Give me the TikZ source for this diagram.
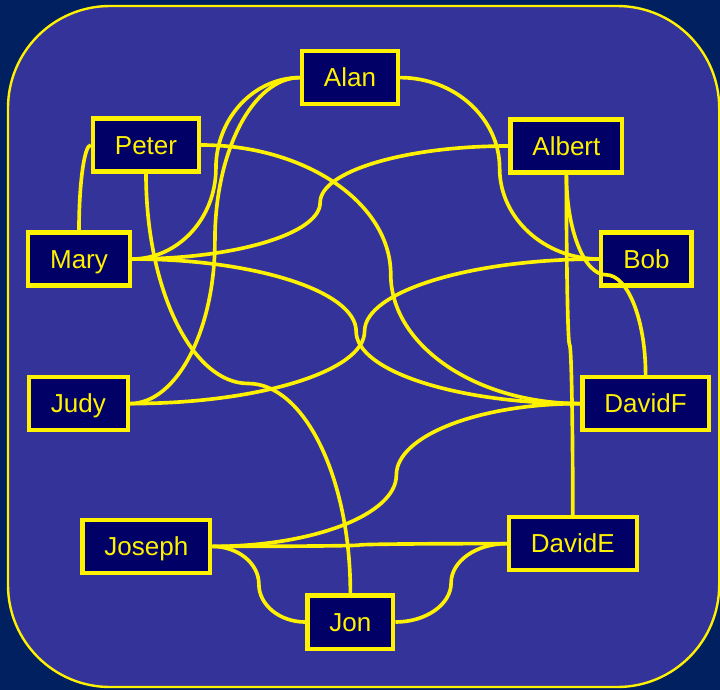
\documentclass[tikz,border=0pt]{standalone}
\usepackage{fontspec}
\setmainfont{Liberation Sans}
\usepackage{tikz}
\usetikzlibrary{calc}
\usepackage{xcolor}
\definecolor{navybg}{HTML}{002060}
\definecolor{panelblue}{HTML}{333399}
\definecolor{boxnavy}{HTML}{000066}
\tikzset{
  person/.style={
    draw=yellow,
    rectangle,
    fill=boxnavy,
    text=yellow,
    font=\fontsize{18.5pt}{22pt}\selectfont,
    minimum height=1.33cm,
    inner xsep=0.55cm,
    inner ysep=0pt,
    text height=16.6pt,
    text depth=3.4pt,
    line width=3pt,
  },
  panel/.style={
    draw=yellow,
    fill=panelblue,
    rounded corners=2.55cm,
    line width=1.7pt,
  },
  link/.style={draw=yellow, line width=2.6pt},
  % horizontal - vertical - horizontal
  hvh/.style={to path={
    let \p1=(\tikztostart), \p2=(\tikztotarget), \p3=($(\p1)!0.5!(\p2)$) in
    .. controls ({\x1+0.55*(\x3-\x1)},\y1) and (\x3,{\y3+0.55*(\y1-\y3)}) .. (\p3)
    .. controls (\x3,{\y3+0.55*(\y2-\y3)}) and ({\x2+0.55*(\x3-\x2)},\y2) .. (\p2)
  }},
  % vertical - horizontal - vertical
  vhv/.style={to path={
    let \p1=(\tikztostart), \p2=(\tikztotarget), \p3=($(\p1)!0.5!(\p2)$) in
    .. controls (\x1,{\y1+0.55*(\y3-\y1)}) and ({\x3+0.55*(\x1-\x3)},\y3) .. (\p3)
    .. controls ({\x3+0.55*(\x2-\x3)},\y3) and (\x2,{\y2+0.55*(\y3-\y2)}) .. (\p2)
  }},
  % vertical - horizontal
  vh/.style={to path={
    let \p1=(\tikztostart), \p2=(\tikztotarget) in
    .. controls (\x1,{\y1+0.55*(\y2-\y1)}) and ({\x2+0.55*(\x1-\x2)},\y2) .. (\p2)
  }},
}

\begin{document}
\begin{tikzpicture}
  \useasboundingbox (0,0) rectangle (18,-17.25);
  \fill[navybg] (0,0) rectangle (18,-17.25);
  \draw[panel] (0.2,-0.15) rectangle (17.98,-17.175);

  \node[person] (alan)   at (8.75,-1.94)   {Alan};
  \node[person] (peter)  at (3.65,-3.625)  {Peter};
  \node[person] (albert) at (14.16,-3.65)  {Albert};
  \node[person] (mary)   at (1.975,-6.475) {Mary};
  \node[person] (bob)    at (16.16,-6.475) {Bob};
  \node[person] (judy)   at (1.96,-10.09)  {Judy};
  \node[person] (davidf) at (16.14,-10.09) {DavidF};
  \node[person] (joseph) at (3.66,-13.66)  {Joseph};
  \node[person] (davide) at (14.32,-13.59) {DavidE};
  \node[person] (jon)    at (8.76,-15.55)  {Jon};

  \draw[link] (mary.north) to[vh] (peter.west);
  \draw[link] (mary.east) to[hvh] (alan.west);
  \draw[link] (judy.east) to[hvh] (alan.west);
  \draw[link] (mary.east) to[hvh] (albert.west);
  \draw[link] (mary.east) to[hvh] (davidf.west);
  \draw[link] (peter.east) to[hvh] (davidf.west);
  \draw[link] (peter.south) to[vhv] (jon.north);
  \draw[link] (alan.east) to[hvh] (bob.west);
  \draw[link] (albert.south) to[vhv] (davide.north);
  \draw[link] (albert.south) to[vhv] (davidf.north);
  \draw[link] (judy.east) to[hvh] (bob.west);
  \draw[link] (joseph.east) to[hvh] (davidf.west);
  \draw[link] (joseph.east) to[hvh] (davide.west);
  \draw[link] (joseph.east) to[hvh] (jon.west);
  \draw[link] (jon.east) to[hvh] (davide.west);
\end{tikzpicture}
\end{document}
